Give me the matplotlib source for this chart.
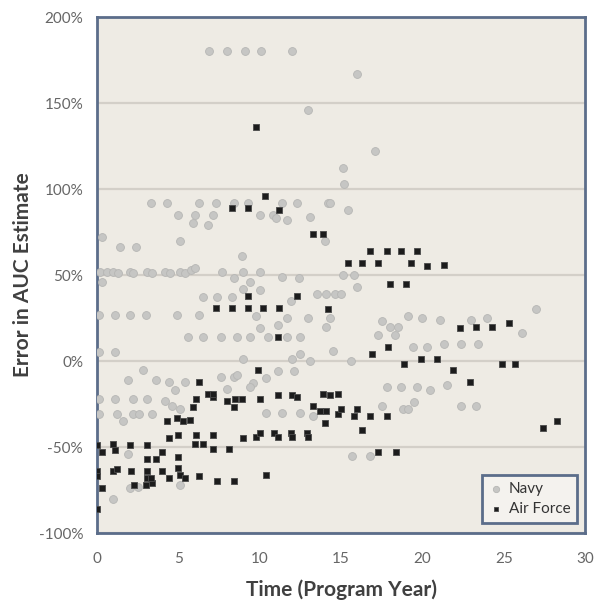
import matplotlib
matplotlib.use("Agg")
import matplotlib.pyplot as plt
from matplotlib.ticker import FuncFormatter

plt.rcParams['font.family'] = ['Lato', 'DejaVu Sans']

# Navy programs: (program year, error in AUC estimate, %)
navy_year = [
    6.9, 8.0, 9.1, 10.1, 12.0,
    16.0, 13.0, 17.1, 15.1, 15.2, 15.4,
    3.3, 4.3, 6.3, 7.3, 8.4, 9.3, 11.4, 12.3, 14.2, 14.3,
    5.0, 6.0, 7.1, 10.0, 10.8, 11.0, 11.7, 13.1,
    5.9, 6.8, 0.3, 14.0, 5.1, 1.4, 2.4, 8.9,
    0.2, 0.6, 1.0, 1.3, 2.0, 2.2, 3.1, 3.4, 4.2, 4.5, 5.1, 5.4, 5.8, 6.0, 7.7, 9.0, 10.0,
    0.3, 8.4, 9.4, 11.4, 12.4, 15.1, 15.8,
    9.0, 10.0, 16.0,
    6.5, 7.4, 8.3, 11.9, 13.5, 14.1, 14.6, 15.0,
    0.1, 1.1, 2.0, 3.0, 4.9, 6.3, 9.8, 11.7, 13.0, 14.3, 19.1, 20.0, 21.1, 23.0, 24.0, 27.0,
    10.0, 11.1, 14.1, 17.5, 18.0, 18.5,
    5.6, 6.5, 7.6, 8.6, 9.4, 10.5, 11.7, 12.5, 17.3, 18.3, 26.1,
    19.4, 20.3, 21.3, 22.4, 23.4, 14.5,
    0.1, 1.1, 9.0, 12.5, 12.0, 13.1, 15.6,
    2.8, 11.1, 12.1,
    7.6, 8.4, 8.6, 10.4, 9.6, 8.0, 9.4,
    1.9, 3.6, 4.4, 5.4,
    17.8, 18.7, 19.7, 20.5, 21.5,
    4.8, 0.1, 1.1, 2.2, 3.1, 4.2, 4.6, 5.1,
    0.1, 1.2, 2.2, 2.6, 3.4, 1.6,
    10.4, 11.4, 12.5, 13.3,
    17.5, 19.5, 18.8, 19.1, 22.4, 23.3,
    15.7, 16.8, 1.9,
    1.0, 2.0, 2.5, 5.1,
]
navy_error = [
    180, 180, 180, 180, 180,
    167, 146, 122, 112, 103, 88,
    92, 92, 92, 92, 92, 92, 92, 92, 92, 92,
    85, 85, 85, 85, 85, 83, 82, 84,
    80, 79, 72, 70, 70, 66, 66, 61,
    52, 52, 52, 51, 52, 51, 52, 51, 52, 51, 52, 51, 53, 54, 52, 52, 52,
    46, 48, 46, 49, 48, 50, 50,
    42, 41, 43,
    37, 37, 37, 35, 39, 39, 39, 39,
    27, 27, 27, 27, 27, 27, 26, 25, 25, 25, 26, 25, 24, 24, 25, 30,
    19, 21, 20, 23, 20, 20,
    14, 14, 14, 14, 14, 14, 14, 14, 15, 15, 16,
    8, 8, 10, 10, 10, 6,
    5, 5, 1, 4, 1, 0, 0,
    -5, -6, -6,
    -9, -9, -8, -10, -13, -16, -15,
    -11, -11, -12, -12,
    -15, -15, -15, -17, -14,
    -17, -22, -22, -22, -22, -23, -26, -28,
    -31, -31, -31, -31, -31, -35,
    -30, -30, -30, -32,
    -26, -24, -28, -28, -26, -26,
    -55, -55, -54,
    -80, -74, -73, -72,
]

# Air Force programs: (program year, error in AUC estimate, %)
af_year = [
    9.8, 10.3, 8.3, 9.3, 11.2, 13.3, 13.9,
    16.8, 17.8, 18.7, 19.7,
    15.4, 16.3, 17.3, 19.3, 20.3, 21.3,
    18.0, 19.0, 9.3, 12.3,
    7.3, 8.3, 9.3, 10.2, 11.2, 14.2,
    11.1, 22.3, 23.3, 24.3, 25.3,
    17.9, 16.9, 18.9, 19.9, 20.9, 24.9, 25.7, 21.9, 22.9,
    9.9, 6.3,
    6.8, 7.1, 6.1, 5.9,
    7.1, 8.0, 8.5, 8.9, 8.4, 10.0, 11.1, 12.0, 12.3,
    13.9, 14.3, 14.8, 13.3, 13.7, 14.1, 14.0, 14.8,
    15.0, 16.0, 15.8, 16.8, 17.8, 16.3, 17.3, 18.4, 27.4, 28.3,
    4.3, 4.9, 5.3, 5.7,
    4.4, 5.0, 6.1, 7.1, 6.0, 6.5, 7.1, 8.1,
    9.0, 9.8, 10.0, 10.9, 11.1, 11.9, 12.0, 12.9, 13.0,
    0.0, 0.3, 1.0, 1.1, 2.0, 3.1, 4.0,
    3.1, 3.6, 5.0,
    0.0, 0.0, 1.0, 1.2, 2.1, 3.1, 3.1, 4.0, 4.4, 5.0, 5.1, 5.4, 6.3, 7.4, 8.4, 10.4,
    2.3, 3.0, 3.4, 3.3, 0.3, 0.0,
]
af_error = [
    136, 96, 89, 89, 88, 74, 74,
    64, 64, 64, 64,
    57, 57, 57, 57, 55, 56,
    45, 45, 38, 38,
    31, 31, 31, 31, 31, 30,
    14, 19, 20, 20, 22,
    8, 4, -2, 1, 1, -2, -2, -5, -12,
    -5, -12,
    -19, -21, -22, -27,
    -19, -23, -22, -22, -27, -22, -20, -20, -21,
    -19, -20, -19, -26, -29, -29, -36, -31,
    -28, -28, -32, -32, -32, -40, -53, -53, -39, -35,
    -35, -33, -35, -34,
    -45, -43, -43, -43, -48, -48, -51, -51,
    -45, -44, -42, -42, -44, -42, -44, -42, -44,
    -49, -53, -48, -52, -49, -49, -53,
    -57, -57, -56,
    -64, -67, -64, -63, -64, -64, -68, -64, -68, -62, -66, -68, -67, -70, -70, -66,
    -72, -72, -71, -68, -74, -86,
]

y_ticks = [-100, -50, 0, 50, 100, 150, 200]
x_ticks = [0, 5, 10, 15, 20, 25, 30]

fig = plt.figure(figsize=(5.94, 6.01), dpi=100)
ax = fig.add_axes([0.1633, 0.1131, 0.8216, 0.8586])
ax.set_facecolor('#eeebe4')

ax.set_xlim(0, 30)
ax.set_ylim(-100, 200)
ax.set_yticks(y_ticks)
ax.set_xticks(x_ticks)
ax.yaxis.set_major_formatter(FuncFormatter(lambda v, p: f"{int(v)}%"))
ax.grid(axis='y', color='#d3cfc8', linewidth=1.6)
ax.set_axisbelow(True)

ax.scatter(navy_year, navy_error, s=32, marker='o', facecolor='#c6c6c4',
           edgecolor='#b6b6b4', linewidth=0.6, label='Navy', zorder=3)
ax.scatter(af_year, af_error, s=20, marker='s', facecolor='#1c1c1c',
           edgecolor='#4a4a4a', linewidth=0.6, label='Air Force', zorder=4)

for side in ['left', 'right', 'top', 'bottom']:
    ax.spines[side].set_color('#5b6d8a')
    ax.spines[side].set_linewidth(2)

ax.tick_params(axis='both', length=0, labelsize=11, labelcolor='#666666')
ax.tick_params(axis='x', pad=14)
ax.tick_params(axis='y', pad=10)

ax.set_xlabel('Time (Program Year)', fontsize=15, fontweight='bold',
              color='#404040', labelpad=9)
ax.set_ylabel('Error in AUC Estimate', fontsize=15, fontweight='bold',
              color='#404040', labelpad=4)

leg = ax.legend(loc='lower right', bbox_to_anchor=(0.984, 0.019),
                borderaxespad=0, fontsize=11, frameon=True, fancybox=False,
                handletextpad=0.3, handlelength=1.0, borderpad=0.45,
                labelspacing=0.4, markerscale=0.8)
leg.get_frame().set_edgecolor('#5b6d8a')
leg.get_frame().set_linewidth(2)
leg.get_frame().set_facecolor('#f4f2ee')
leg.get_frame().set_alpha(1)
for t in leg.get_texts():
    t.set_color('#333333')

fig.savefig('out.png', dpi=100, facecolor='white')
